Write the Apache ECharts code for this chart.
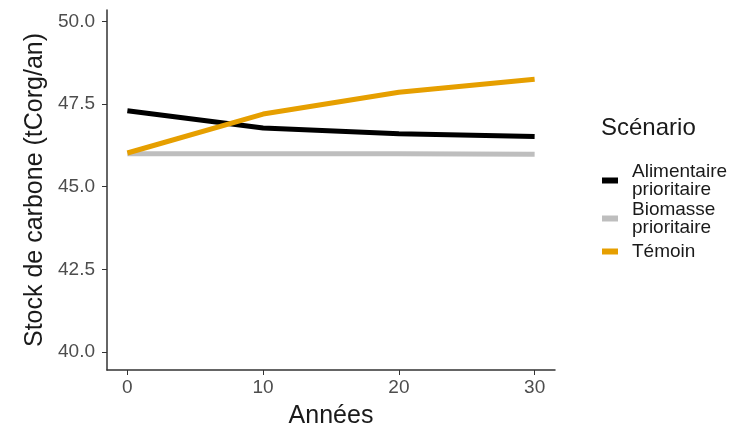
<!DOCTYPE html>
<html><head><meta charset="utf-8">
<script src="https://cdn.jsdelivr.net/npm/echarts@6/dist/echarts.min.js"></script>
<style>html,body{margin:0;padding:0;background:#fff}#c{width:748px;height:434px}</style>
</head><body><div id="c"></div>
<script>
var years = [0, 10, 20, 30];
var alimentaire = [47.3, 46.78, 46.6, 46.52];
var biomasse = [46.0, 46.0, 46.0, 45.98];
var temoin = [46.02, 47.2, 47.86, 48.25];
var seriesNames = ['Alimentaire\nprioritaire', 'Biomasse\nprioritaire', 'Témoin'];
var yTicks = [40.0, 42.5, 45.0, 47.5, 50.0];
var xTicks = [0, 10, 20, 30];
var colors = ['#000000', '#bebebe', '#E69F00'];

function pts(v){ return years.map(function(y,i){ return [y, v[i]]; }); }
var chart = echarts.init(document.getElementById('c'));
var font = 'Liberation Sans, Arial, sans-serif';
var legendTops = [162, 200, 242];
function legendFor(i){
  return {
    orient: 'vertical', left: 602, top: legendTops[i], padding: 0,
    itemWidth: 16, itemHeight: 6, icon: 'rect',
    textStyle: {fontSize: 19, color: '#1a1a1a', lineHeight: 18, fontFamily: font, padding: [0,0,0,9]},
    data: [seriesNames[i]]
  };
}
chart.setOption({
  animation: false,
  textStyle: {fontFamily: font},
  title: {text: 'Scénario', left: 601, top: 116, padding: 0, textStyle: {fontSize: 24, fontWeight: 'normal', color: '#1a1a1a', fontFamily: font}},
  legend: [legendFor(0), legendFor(1), legendFor(2)],
  grid: {left: 107, right: 193, top: 10, bottom: 62, containLabel: false},
  xAxis: {
    type: 'value', min: -1.5, max: 31.5,
    name: 'Années', nameLocation: 'middle', nameGap: 34,
    nameTextStyle: {fontSize: 25, color: '#1a1a1a'},
    axisLine: {onZero: false, lineStyle: {color: '#333', width: 1.5}},
    axisTick: {show: true, length: 5, lineStyle: {color: '#333'}, customValues: xTicks},
    axisLabel: {fontSize: 19, color: '#4d4d4d', margin: 8, customValues: xTicks},
    splitLine: {show: false}
  },
  yAxis: {
    type: 'value', min: 39.45, max: 50.35,
    name: 'Stock de carbone (tCorg/an)', nameLocation: 'middle', nameGap: 56,
    nameTextStyle: {fontSize: 25, color: '#1a1a1a'},
    axisLine: {show: true, onZero: false, lineStyle: {color: '#333', width: 1.5}},
    axisTick: {show: true, length: 5, lineStyle: {color: '#333'}, customValues: yTicks},
    axisLabel: {fontSize: 19, color: '#4d4d4d', margin: 12, customValues: yTicks,
      formatter: function(v){ return v.toFixed(1); }},
    splitLine: {show: false}
  },
  series: [
    {name: seriesNames[0], type: 'line', data: pts(alimentaire), showSymbol: false, symbol: 'none', lineStyle: {width: 5, color: colors[0]}, itemStyle: {color: colors[0]}, z: 3},
    {name: seriesNames[1], type: 'line', data: pts(biomasse), showSymbol: false, symbol: 'none', lineStyle: {width: 5, color: colors[1]}, itemStyle: {color: colors[1]}, z: 2},
    {name: seriesNames[2], type: 'line', data: pts(temoin), showSymbol: false, symbol: 'none', lineStyle: {width: 5, color: colors[2]}, itemStyle: {color: colors[2]}, z: 4}
  ]
});
</script></body></html>
